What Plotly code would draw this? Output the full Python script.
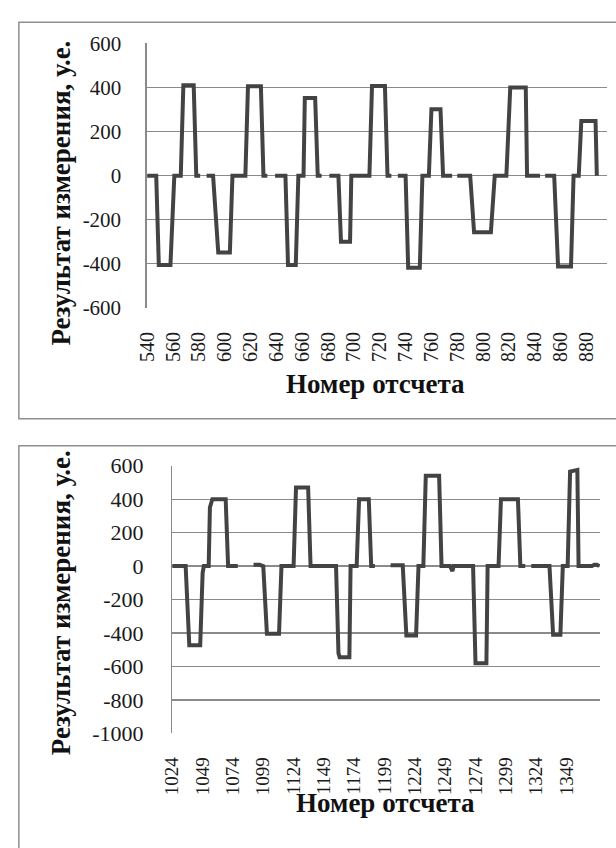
import plotly.graph_objects as go

W, H = 616, 848

# ---------------- data ----------------
top_x = [540, 547, 549, 558, 561, 566, 568, 576, 578, 581, None,
         586, 591, 595, 604, 606, 616, 618, 628, 630, 633, None,
         639, 647, 649, 655, 657, 661, 662, 670, 672, 675, None,
         681, 688, 690, 697, 698, 712, 714, 724, 726, 729, None,
         734, 740, 742, 751, 753, 758, 760, 767, 769, 776, None,
         780, 790, 793, 806, 809, 818, 821, 833, 834, 844, None,
         848, 855, 858, 868, 870, 874, 876, 887, 888]
top_y = [0, 0, -405, -405, 0, 0, 410, 410, 0, 0, None,
         0, 0, -348, -348, 0, 0, 405, 405, 0, 0, None,
         0, 0, -405, -405, 0, 0, 352, 352, 0, 0, None,
         0, 0, -300, -300, 0, 0, 407, 407, 0, 0, None,
         0, 0, -418, -418, 0, 0, 301, 301, 0, 0, None,
         0, 0, -257, -257, 0, 0, 400, 400, 0, 0, None,
         0, 0, -412, -412, 0, 0, 248, 248, 0]

bot_x = [1024, 1035, 1038, 1047, 1049, 1050, 1054, 1055, 1057, 1068, 1070, 1078, None,
         1091, 1096, 1099, 1101, 1102, 1112, 1114, 1124, 1126, 1136, 1138, 1159, 1161, 1162, 1170, 1171,
         1176, 1178, 1186, 1188, 1191, None,
         1204, 1214, 1217, 1225, 1227, 1231, 1233, 1244, 1246, 1253, 1255, 1256, 1272, 1274, 1283, 1284,
         1293, 1295, 1309, 1311, 1315, None,
         1320, 1335, 1338, 1344, 1346, 1350, 1352, 1356, 1358, 1359, 1370, 1372, 1374, 1376]
bot_y = [0, 0, -473, -473, -40, 0, 0, 350, 400, 400, 0, 0, None,
         8, 8, 0, -370, -404, -404, 0, 0, 470, 470, 0, 0, -520, -545, -545, 0,
         0, 400, 400, 0, 0, None,
         5, 5, -415, -415, 0, 0, 540, 540, 0, 0, -30, 0, 0, -580, -580, 0,
         0, 400, 400, 0, 0, None,
         0, 0, -410, -410, 0, 0, 565, 575, 575, 0, 0, 8, 8, 0]

top_xticks = [540, 560, 580, 600, 620, 640, 660, 680, 700, 720, 740, 760, 780, 800, 820, 840, 860, 880]
bot_xticks = [1024, 1049, 1074, 1099, 1124, 1149, 1174, 1199, 1224, 1249, 1274, 1299, 1324, 1349]
top_yticks = [600, 400, 200, 0, -200, -400, -600]
bot_yticks = [600, 400, 200, 0, -200, -400, -600, -800, -1000]

y_title = "Результат измерения, у.е."
x_title = "Номер отсчета"

# ---------------- style ----------------
def px(x):
    return x / W

def py(y):
    return 1 - y / H

LINE = "#434343"
GRID = "#8a8a8a"
FONT = "Liberation Serif"

def tf(size):
    return dict(family=FONT, size=size, color="#1a1a1a")

fig = go.Figure()
fig.add_trace(go.Scatter(x=top_x, y=top_y, mode="lines", xaxis="x", yaxis="y",
                         line=dict(color=LINE, width=4), connectgaps=False, showlegend=False,
                         hoverinfo="skip"))
fig.add_trace(go.Scatter(x=bot_x, y=bot_y, mode="lines", xaxis="x2", yaxis="y2",
                         line=dict(color=LINE, width=4), connectgaps=False, showlegend=False,
                         hoverinfo="skip"))

def xax(domain, rng, ticks, anchor, size):
    return dict(domain=domain, range=rng, anchor=anchor, tickmode="array", tickvals=ticks,
                ticktext=[str(t) for t in ticks], tickangle=-90, tickfont=tf(size),
                showgrid=False, zeroline=False, showline=False, ticks="",
                ticklabelstandoff=19, fixedrange=True)

def yax(domain, rng, ticks, anchor, size, standoff):
    return dict(domain=domain, range=rng, anchor=anchor, tickmode="array", tickvals=ticks,
                ticktext=[str(t) for t in ticks], tickfont=tf(size),
                showgrid=True, gridcolor=GRID, gridwidth=1.2, zeroline=False,
                showline=True, linecolor=GRID, linewidth=1.2, ticks="",
                ticklabelstandoff=standoff, fixedrange=True)

fig.update_layout(
    width=W, height=H, margin=dict(l=0, r=0, t=0, b=0),
    paper_bgcolor="white", plot_bgcolor="white",
    xaxis=xax([px(138), px(607)], [539.5, 896.0], top_xticks, "y", 20),
    yaxis=yax([py(305), py(32.3)], [-600, 600], top_yticks, "x", 21, 20),
    xaxis2=xax([px(164), px(600)], [1023.8, 1376.9], bot_xticks, "y2", 19),
    yaxis2=yax([py(743.3), py(467.5)], [-1000, 600], bot_yticks, "x2", 22, 23),
)

# outer chart-area borders (right and lower edges run past the picture)
for (x0, y0, x1, y1) in [(8, 10.5, 630, 419), (8, 447, 630, 870)]:
    fig.add_shape(type="rect", xref="paper", yref="paper",
                  x0=px(x0), x1=px(x1), y0=py(y1), y1=py(y0),
                  line=dict(color="#8f8f8f", width=1.5), fillcolor="rgba(0,0,0,0)", layer="below")

TITLEFONT = dict(family=FONT, size=27, color="#111111")
anns = [
    dict(x=px(51), y=py(187), text="<b>%s</b>" % y_title, textangle=-90),
    dict(x=px(371.5), y=py(383), text="<b>%s</b>" % x_title, textangle=0),
    dict(x=px(51), y=py(609), text="<b>%s</b>" % y_title, textangle=-90),
    dict(x=px(381), y=py(815), text="<b>%s</b>" % x_title, textangle=0),
]
for a in anns:
    fig.add_annotation(xref="paper", yref="paper", showarrow=False, font=TITLEFONT,
                       xanchor="center", yanchor="middle", **a)

fig.write_html("out.html", config={"displayModeBar": False, "staticPlot": True},
               post_script="document.body.style.margin='0px';document.body.style.overflow='hidden';")
